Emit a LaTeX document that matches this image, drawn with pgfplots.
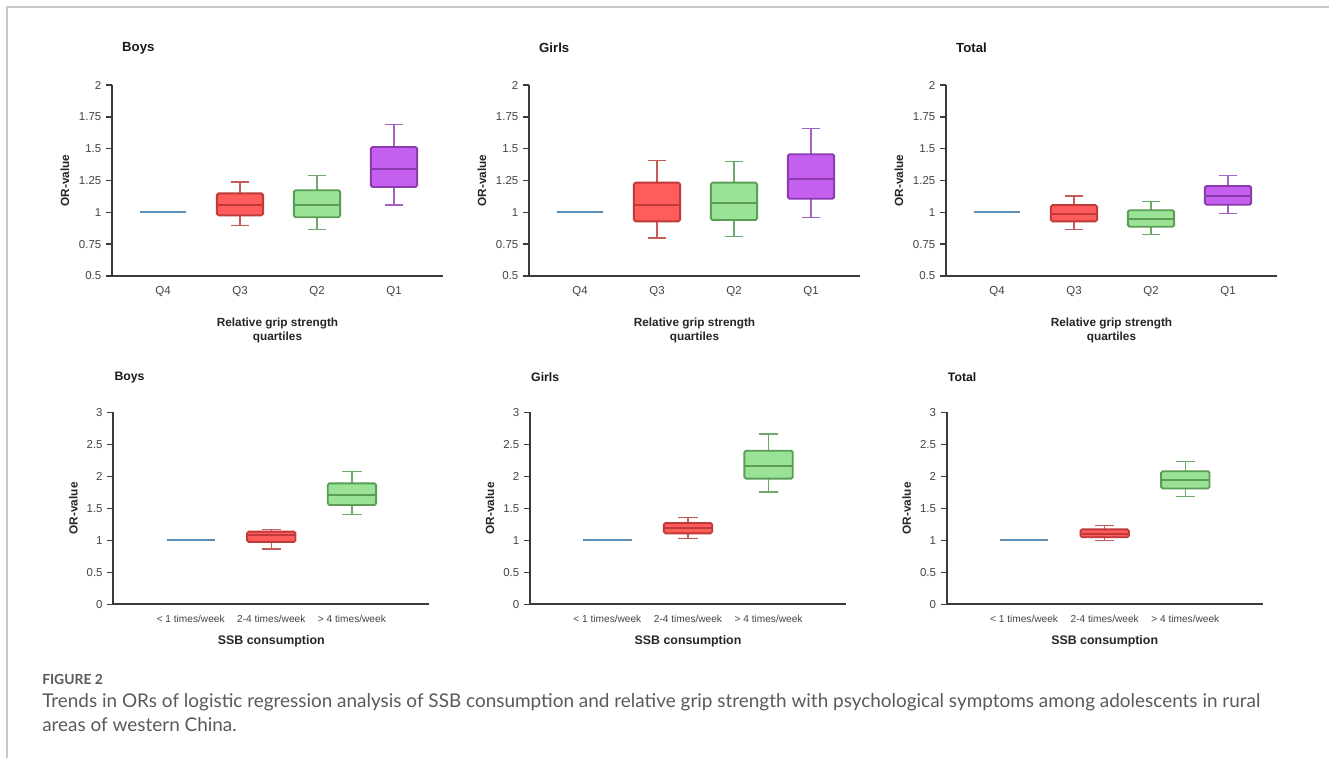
\documentclass[border=0pt]{standalone}
\usepackage{fontspec}
\setmainfont{Liberation Sans}
\newfontfamily\capfont{Lato}
\usepackage{pgfplots}
\pgfplotsset{compat=1.18}
\usepgfplotslibrary{statistics}

\definecolor{axisc}{HTML}{3A3A3A}
\definecolor{tickc}{HTML}{444444}
\definecolor{redf}{HTML}{FF5C5C}
\definecolor{rede}{HTML}{C03A3A}
\definecolor{redw}{HTML}{C85A5A}
\definecolor{grnf}{HTML}{9AE396}
\definecolor{grne}{HTML}{5A9E55}
\definecolor{grnw}{HTML}{6FA86B}
\definecolor{purf}{HTML}{C55FF0}
\definecolor{pure}{HTML}{8A3BAE}
\definecolor{purw}{HTML}{A462C4}
\definecolor{bluel}{HTML}{5B8DB5}
\definecolor{framec}{HTML}{C8C8C8}
\definecolor{capc}{HTML}{5A5A5A}

% #1 position, #2 lw, #3 lq, #4 med, #5 uq, #6 uw, #7 colour prefix
\newcommand{\bx}[7]{%
  \addplot[boxplot prepared={draw direction=y, draw position=#1, lower whisker=#2, lower quartile=#3,
      median=#4, upper quartile=#5, upper whisker=#6, box extend=0.6, whisker extend=0.24},
    fill=#7f, draw=#7e, line width=1.4pt,
    boxplot/every box/.style={rounded corners=1.2pt},
    boxplot/every whisker/.style={draw=#7w, line width=1.0pt},
    boxplot/every median/.style={draw=#7e, line width=1.4pt}] coordinates {};}

\pgfplotsset{
  orbase/.style={
    scale only axis, clip=false,
    axis x line*=bottom, axis y line*=left,
    axis line style={draw=axisc, line width=1.4pt, -},
    tick align=outside,
    xtick style={draw=none},
    ytick style={draw=axisc, line width=1.1pt},
    major tick length=4.5pt,
    tick label style={font=\fontsize{8.6}{10}\selectfont, text=tickc},
    /pgf/number format/assume math mode=true,
    ylabel style={font=\bfseries\fontsize{8.85}{10}\selectfont, text=black!85, anchor=center},
    xlabel style={font=\bfseries\fontsize{8.85}{10.5}\selectfont, align=center, anchor=center, text=black!85},
    every axis title shift=0pt,
    title style={anchor=west, text=black!90, inner sep=0pt},
    anchor=south west,
  },
  toprow/.style={orbase, width=248.25pt, height=143.25pt,
    xmin=-0.662, xmax=3.636, ymin=0.5, ymax=2,
    ytick={0.5,0.75,1,1.25,1.5,1.75,2}, yticklabels={0.5,0.75,1,1.25,1.5,1.75,2},
    xtick={0,1,2,3}, xticklabels={Q4,Q3,Q2,Q1},
    ylabel={OR-value}, ylabel style={at={(axis description cs:-0.142,0.5)}},
    xlabel={Relative grip strength\\quartiles}, xlabel style={at={(axis description cs:0.5,-0.283)}},
    title style={at={(axis description cs:0.030,1.194)}, font=\bfseries\fontsize{9.9}{11}\selectfont}},
  botrow/.style={orbase, width=237pt, height=144pt,
    xmin=-0.96, xmax=2.96, ymin=0, ymax=3,
    ytick={0,0.5,1,1.5,2,2.5,3}, yticklabels={0,0.5,1,1.5,2,2.5,3},
    xtick={0,1,2}, xticklabels={< 1 times/week, 2-4 times/week, > 4 times/week},
    xticklabel style={font=\fontsize{7.6}{9}\selectfont},
    ylabel={OR-value}, ylabel style={at={(axis description cs:-0.1266,0.5)}},
    xlabel={SSB consumption}, xlabel style={at={(axis description cs:0.5,-0.195)}, font=\bfseries\fontsize{9.3}{11}\selectfont},
    title style={at={(axis description cs:0.003,1.182)}, font=\bfseries\fontsize{9.2}{11}\selectfont}},
}

\begin{document}
\begin{tikzpicture}
\fill[white] (0,0) rectangle (996.75pt,-568.5pt);
\path[use as bounding box] (0,0) rectangle (996.75pt,-568.5pt);
\draw[framec, line width=1.1pt] (5.25pt,-568.5pt) -- (5.25pt,-5.25pt) -- (996.75pt,-5.25pt);

% ---- top row: relative grip strength quartiles
\begin{axis}[toprow, at={(84pt,-207pt)}, title={Boys}]
  \addplot[draw=bluel, line width=1.5pt] coordinates {(-0.3,1) (0.3,1)};
  \bx{1}{0.898}{0.976}{1.060}{1.149}{1.238}{red}
  \bx{2}{0.866}{0.961}{1.060}{1.173}{1.290}{grn}
  \bx{3}{1.057}{1.199}{1.338}{1.513}{1.688}{pur}
\end{axis}
\begin{axis}[toprow, at={(396.75pt,-207pt)}, title={Girls}]
  \addplot[draw=bluel, line width=1.5pt] coordinates {(-0.3,1) (0.3,1)};
  \bx{1}{0.798}{0.929}{1.057}{1.233}{1.408}{red}
  \bx{2}{0.809}{0.940}{1.071}{1.233}{1.398}{grn}
  \bx{3}{0.958}{1.107}{1.259}{1.456}{1.660}{pur}
\end{axis}
\begin{axis}[toprow, at={(709.5pt,-207pt)}, title={Total}]
  \addplot[draw=bluel, line width=1.5pt] coordinates {(-0.3,1) (0.3,1)};
  \bx{1}{0.866}{0.929}{0.989}{1.057}{1.128}{red}
  \bx{2}{0.827}{0.887}{0.950}{1.016}{1.086}{grn}
  \bx{3}{0.989}{1.060}{1.128}{1.207}{1.288}{pur}
\end{axis}

% ---- bottom row: SSB consumption
\begin{axis}[botrow, at={(84.975pt,-453.225pt)}, title={Boys}]
  \addplot[draw=bluel, line width=1.5pt] coordinates {(-0.3,1) (0.3,1)};
  \bx{1}{0.862}{0.974}{1.080}{1.135}{1.170}{red}
  \bx{2}{1.400}{1.552}{1.708}{1.890}{2.072}{grn}
\end{axis}
\begin{axis}[botrow, at={(397.5pt,-453.225pt)}, title={Girls}]
  \addplot[draw=bluel, line width=1.5pt] coordinates {(-0.3,1) (0.3,1)};
  \bx{1}{1.030}{1.109}{1.192}{1.270}{1.359}{red}
  \bx{2}{1.755}{1.963}{2.160}{2.400}{2.660}{grn}
\end{axis}
\begin{axis}[botrow, at={(710.025pt,-453.225pt)}, title={Total}]
  \addplot[draw=bluel, line width=1.5pt] coordinates {(-0.3,1) (0.3,1)};
  \bx{1}{1.000}{1.047}{1.100}{1.170}{1.234}{red}
  \bx{2}{1.680}{1.810}{1.940}{2.080}{2.230}{grn}
\end{axis}

% ---- caption
\node[anchor=base west, inner sep=0pt, font=\capfont\bfseries\fontsize{10.4}{12}\selectfont, text=capc] at (31.5pt,-513pt) {FIGURE 2};
\node[anchor=base west, inner sep=0pt, font=\capfont\fontsize{14.2}{16}\selectfont, text=capc] at (31.5pt,-530.25pt) {Trends in ORs of logistic regression analysis of SSB consumption and relative grip strength with psychological symptoms among adolescents in rural};
\node[anchor=base west, inner sep=0pt, font=\capfont\fontsize{14.2}{16}\selectfont, text=capc] at (31.5pt,-548.25pt) {areas of western China.};
\end{tikzpicture}
\end{document}
